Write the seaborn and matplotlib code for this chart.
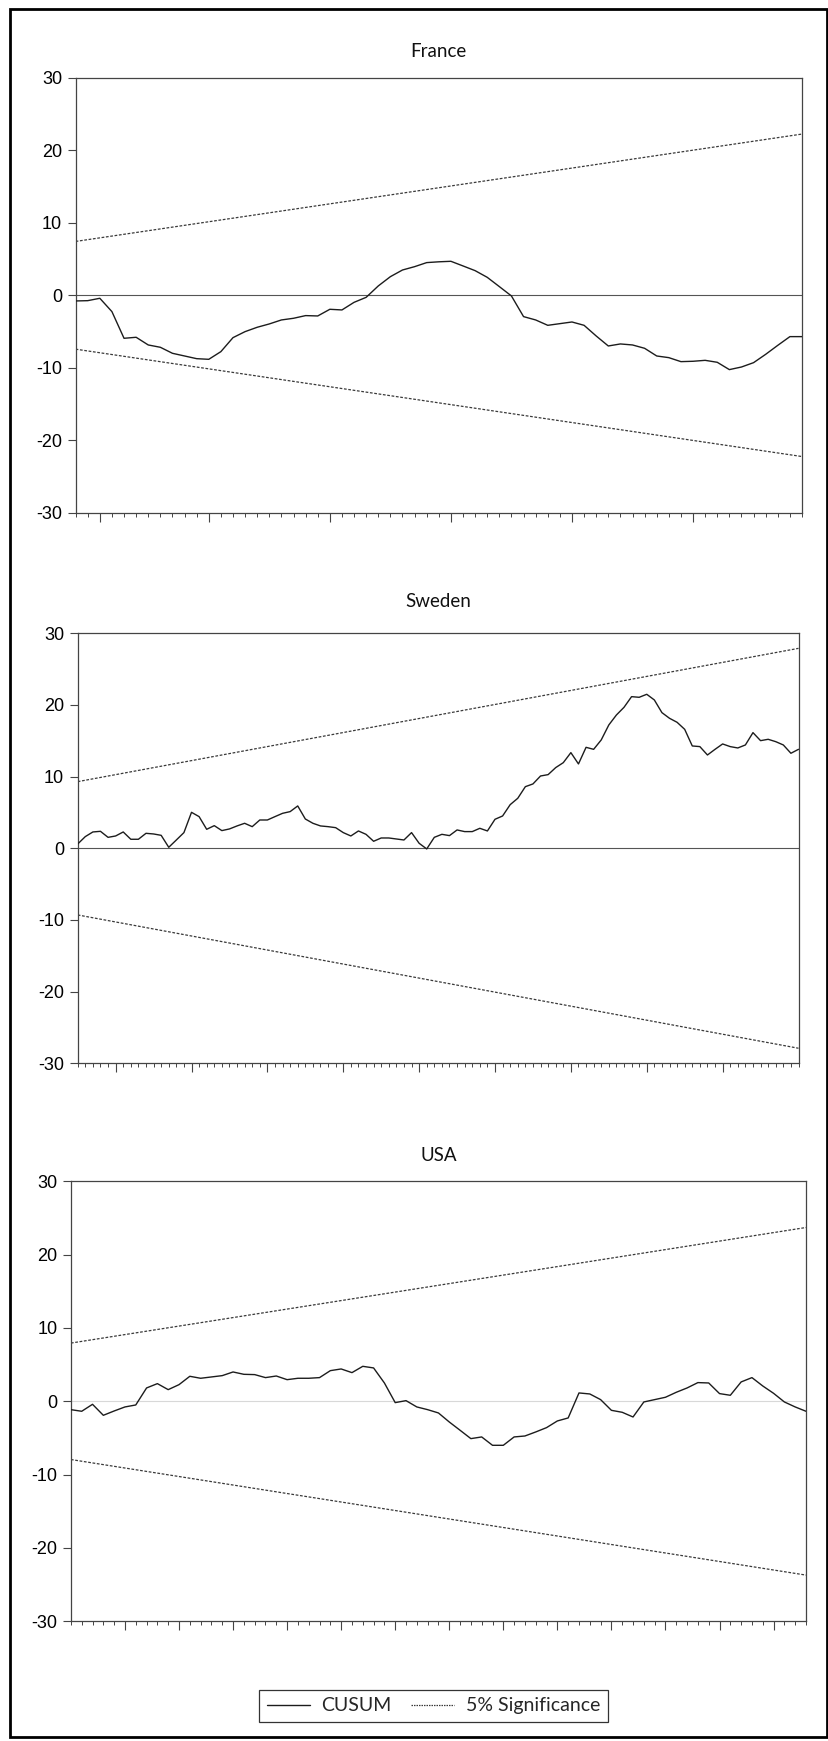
import matplotlib
matplotlib.use("Agg")
import matplotlib.pyplot as plt
import numpy as np
import pandas as pd
import seaborn as sns
from matplotlib.lines import Line2D
from matplotlib.patches import Rectangle

# ---- CUSUM statistics per country ----
france_cusum = [-0.78, -0.74, -0.41, -2.25, -5.93, -5.79, -6.85, -7.17, -8.00, -8.37,
                -8.74, -8.83, -7.77, -5.84, -5.01, -4.41, -3.95, -3.40, -3.17, -2.80,
                -2.85, -1.93, -2.02, -0.97, -0.28, 1.29, 2.57, 3.49, 3.95, 4.51,
                4.62, 4.69, 4.05, 3.40, 2.48, 1.20, -0.09, -2.94, -3.40, -4.14,
                -3.91, -3.68, -4.14, -5.61, -6.99, -6.71, -6.85, -7.31, -8.37, -8.60,
                -9.15, -9.10, -8.97, -9.24, -10.25, -9.89, -9.29, -8.14, -6.90, -5.70,
                -5.70]
sweden_cusum = [0.60, 1.63, 2.28, 2.37, 1.53, 1.72, 2.28, 1.26, 1.26, 2.09,
                2.00, 1.81, 0.14, 1.16, 2.19, 5.02, 4.42, 2.65, 3.16, 2.47,
                2.70, 3.12, 3.49, 3.02, 3.95, 3.95, 4.42, 4.88, 5.12, 5.91,
                4.09, 3.49, 3.12, 3.02, 2.88, 2.19, 1.72, 2.42, 1.95, 0.98,
                1.44, 1.44, 1.30, 1.16, 2.19, 0.70, -0.09, 1.53, 1.95,
                1.77, 2.56, 2.33, 2.33, 2.79, 2.42, 4.05, 4.51, 6.09, 6.98,
                8.60, 8.98, 10.09, 10.28, 11.26, 11.95, 13.35, 11.77, 14.09, 13.81,
                15.12, 17.21, 18.60, 19.67, 21.16, 21.07, 21.49, 20.70, 18.93, 18.14,
                17.58, 16.60, 14.28, 14.19, 13.02, 13.81, 14.56, 14.19, 14.00, 14.42,
                16.14, 15.02, 15.21, 14.88, 14.42, 13.26, 13.81]
usa_cusum = [-1.14, -1.36, -0.41, -1.91, -1.32, -0.77, -0.50, 1.82, 2.41, 1.59,
             2.27, 3.41, 3.14, 3.32, 3.50, 4.00, 3.68, 3.64, 3.23, 3.45,
             2.95, 3.14, 3.14, 3.23, 4.18, 4.41, 3.91, 4.77, 4.55, 2.50,
             -0.18, 0.09, -0.77, -1.14, -1.59,
             -2.82, -3.95, -5.09, -4.86, -6.00, -6.00, -4.86, -4.73, -4.18, -3.59,
             -2.68, -2.27, 1.14, 1.00, 0.23, -1.23, -1.50, -2.14, -0.09, 0.23,
             0.55, 1.23, 1.82, 2.55, 2.50, 1.05, 0.82, 2.64, 3.23, 2.09,
             1.09, -0.09, -0.77, -1.36]

# 5% significance band: value of the upper bound at first and last observation
france_band = [7.43, 22.24]
sweden_band = [9.30, 27.90]
usa_band = [7.94, 23.70]

# observations carrying a long tick on the time axis
france_major = [2, 11, 21, 31, 41, 51]
sweden_major = [5, 15, 25, 35, 45, 55, 65, 75, 85]
usa_major = [5, 10, 15, 20, 25, 30, 35, 40, 45, 50, 55, 60, 65]

countries = ["France", "Sweden", "USA"]
y_ticks = [-30, -20, -10, 0, 10, 20, 30]
y_ticklabels = ["-30", "-20", "-10", "0", "10", "20", "30"]
legend_labels = ["CUSUM", "5% Significance"]

sns.set_style("white")
plt.rcParams["font.family"] = ["Liberation Sans", "DejaVu Sans"]
plt.rcParams["axes.unicode_minus"] = False

W, H = 829, 1741
fig = plt.figure(figsize=(W / 100, H / 100), dpi=100)


def rect(left, top, right, bottom):
    return [left / W, 1 - bottom / H, (right - left) / W, (bottom - top) / H]


layout = {
    "France": dict(box=(75.6, 77.8, 802.0, 512.8), zero="#555555", pad=15.1),
    "Sweden": dict(box=(77.7, 633.3, 798.5, 1063.3), zero="#555555", pad=18.9),
    "USA": dict(box=(70.9, 1181.3, 806.0, 1621.3), zero="#d8d8d8", pad=14.6),
}
series = {"France": france_cusum, "Sweden": sweden_cusum, "USA": usa_cusum}
bands = {"France": france_band, "Sweden": sweden_band, "USA": usa_band}
majors = {"France": france_major, "Sweden": sweden_major, "USA": usa_major}

LINE = "#1c1c1c"
BAND = "#3a3a3a"
SPINE = "#444444"
band_style = (0, (2.2, 1.3))

for name in countries:
    cfg = layout[name]
    ax = fig.add_axes(rect(*cfg["box"]))
    vals = series[name]
    n = len(vals)
    df = pd.DataFrame({"obs": np.arange(n), "cusum": vals})

    ax.axhline(0, color=cfg["zero"], lw=0.8, zorder=1)
    lo, hi = bands[name]
    ends = [0, n - 1]
    ax.plot(ends, [lo, hi], color=BAND, lw=0.9, linestyle=band_style, zorder=2)
    ax.plot(ends, [-lo, -hi], color=BAND, lw=0.9, linestyle=band_style, zorder=2)
    sns.lineplot(data=df, x="obs", y="cusum", ax=ax, color=LINE, lw=1.0, zorder=3)

    ax.set_xlim(0, n - 1)
    ax.set_ylim(-30, 30)
    ax.set_xlabel("")
    ax.set_ylabel("")
    ax.set_yticks(y_ticks)
    ax.set_yticklabels(y_ticklabels)
    ax.set_xticks(majors[name])
    ax.set_xticks(np.arange(n), minor=True)
    ax.tick_params(axis="y", which="major", left=True, length=5.8, width=0.8,
                   color=SPINE, pad=4, labelsize=13, labelcolor="#000000")
    ax.tick_params(axis="x", which="major", bottom=True, length=6.5, width=0.8,
                   color=SPINE, labelbottom=False)
    ax.tick_params(axis="x", which="minor", bottom=True, length=3.2, width=0.7,
                   color=SPINE)
    for sp in ax.spines.values():
        sp.set_visible(True)
        sp.set_color(SPINE)
        sp.set_linewidth(0.9)
    ax.set_title(name, fontfamily=["Lato", "DejaVu Sans"], fontsize=13.5,
                 pad=cfg["pad"], color="#111111")

handles = [Line2D([], [], color=LINE, lw=1.0),
           Line2D([], [], color=BAND, lw=0.9, linestyle=(0, (1.2, 0.8)))]
leg = fig.legend(handles=handles, labels=legend_labels, loc="center",
                 bbox_to_anchor=(433.4 / W, 1 - 1705.9 / H), ncol=2,
                 frameon=True, fancybox=False, shadow=False, framealpha=1,
                 edgecolor="#333333",
                 prop={"family": ["Lato", "DejaVu Sans"], "size": 14},
                 handlelength=2.2, handletextpad=0.6, columnspacing=1.0,
                 borderpad=0.4)
leg.get_frame().set_linewidth(0.9)

# outer border of the whole figure
fig.patches.append(Rectangle((10.5 / W, 1 - 1737 / H), (827 - 10.5) / W,
                             (1737 - 8.5) / H, transform=fig.transFigure,
                             fill=False, lw=2.0, ec="black", zorder=10))

fig.savefig("out.png", dpi=100)
